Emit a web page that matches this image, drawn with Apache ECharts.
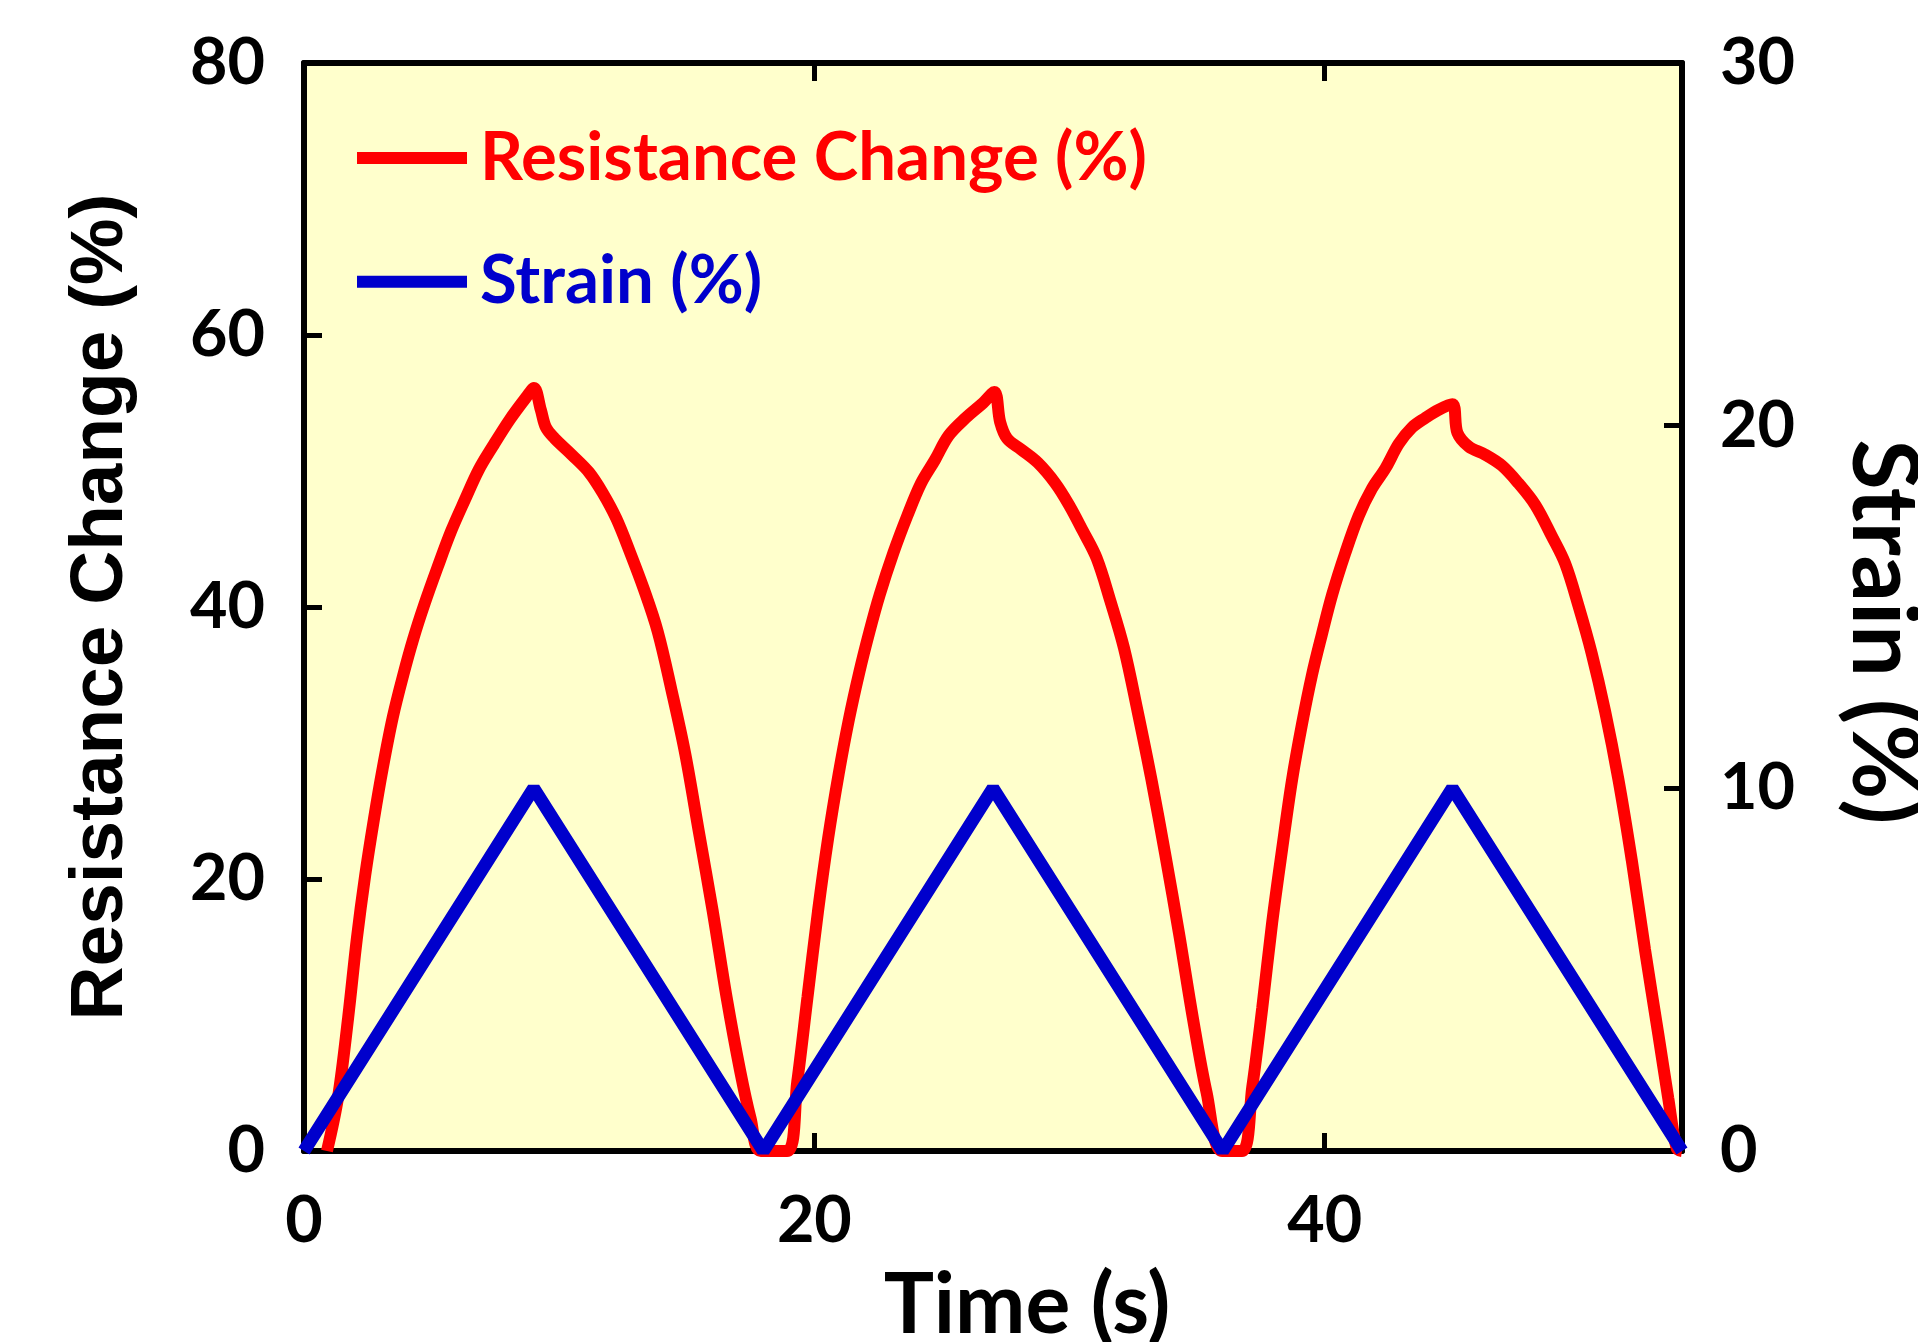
<!DOCTYPE html>
<html><head><meta charset="utf-8">
<script src="https://cdn.jsdelivr.net/npm/echarts@6/dist/echarts.min.js"></script>
<style>html,body{margin:0;padding:0;background:#fff}#c{width:1918px;height:1342px}</style>
</head><body><div id="c"></div>
<script>
// ---- data ----
const resTime = [0.9, 1.33, 1.73, 2.07, 2.40, 2.74, 3.08, 3.48, 3.89, 4.29, 4.70, 5.23, 5.77, 6.31, 6.85, 7.39, 8.07, 8.74, 9.01,
  9.28, 9.48, 9.82, 10.49, 11.17, 11.70, 12.24, 12.78, 13.32, 13.86, 14.40, 14.94, 15.48, 16.02, 16.56, 17.09, 17.50, 17.90,
  18.93, 19.33, 19.73, 20.14, 20.54, 20.95, 21.35, 21.76, 22.16, 22.56, 23.10, 23.64, 24.18, 24.72, 25.26, 25.93, 26.61, 27.05,
  27.28, 27.55, 28.09, 28.76, 29.44, 29.98, 30.52, 31.06, 31.59, 32.13, 32.67, 33.21, 33.75, 34.29, 34.83, 35.37, 35.98,
  36.76, 37.16, 37.55, 37.94, 38.33, 38.72, 39.11, 39.50, 39.89, 40.29, 40.81, 41.33, 41.85, 42.38, 42.90, 43.42, 43.94, 44.46, 45.0,
  45.2, 45.64, 46.29, 46.94, 47.59, 48.25, 48.90, 49.42, 49.94, 50.46, 50.99, 51.51, 52.03, 52.55, 53.07, 53.46, 53.79, 54.0];
const resValue = [0, 3.9, 9.8, 15.6, 20.3, 24.4, 28.1, 31.9, 35.0, 37.7, 40.1, 42.9, 45.6, 47.9, 50.1, 51.8, 53.8, 55.5, 56.1,
  54.5, 53.2, 52.4, 51.2, 49.9, 48.4, 46.5, 44.0, 41.3, 38.2, 33.9, 29.2, 23.4, 17.6, 11.3, 5.9, 2.4, 0,
  0, 5.1, 11.3, 17.6, 23.0, 27.7, 31.7, 35.2, 38.2, 40.9, 44.0, 46.7, 49.1, 50.8, 52.6, 53.9, 55.0, 55.8,
  53.6, 52.4, 51.6, 50.6, 49.1, 47.5, 45.6, 43.6, 40.5, 37.0, 32.3, 27.3, 21.8, 16.0, 9.8, 4.3, 0,
  0, 4.7, 10.5, 16.8, 22.2, 27.3, 31.4, 35.0, 38.0, 40.9, 44.0, 46.7, 48.7, 50.2, 52.0, 53.2, 53.9, 54.5, 54.9,
  52.8, 51.8, 51.2, 50.4, 49.1, 47.5, 45.2, 43.2, 40.1, 36.6, 32.3, 27.3, 21.4, 14.8, 8.6, 3.9, 0.2, 0];
const strainTime = [0, 9, 18, 27, 36, 45, 54];
const strainValue = [0, 10, 0, 10, 0, 10, 0];
const xTicks = [0, 20, 40];
const resName = 'Resistance Change (%)';
const strainName = 'Strain (%)';
const xName = 'Time (s)';

// ---- layout helpers ----
const ctx = document.createElement('canvas').getContext('2d');
function fit(text, family, target) { ctx.font = 'bold 100px ' + family; return 100 * target / ctx.measureText(text).width; }
const tickSize = fit('80', 'Lato', 75);
const legendSize = fit(resName, 'Lato', 667);
const xNameSize = Math.min(fit(xName, 'Lato', 293), 84);
const rNameSize = fit(strainName, 'Lato', 385);
const lNameSize = fit(resName, '"Liberation Sans"', 827);

const G = { left: 304, top: 63, width: 1378, height: 1088 };
const lineStyle = { color: '#000', width: 6 };
const tickStyle = { show: true, inside: true, length: 18, lineStyle: { color: '#000', width: 5 } };
const labelFont = { fontFamily: 'Lato', fontWeight: 'bold', fontSize: tickSize, color: '#000' };

const chart = echarts.init(document.getElementById('c'), null, { renderer: 'canvas' });
chart.setOption({
  animation: false,
  backgroundColor: '#fff',
  grid: { ...G, outerBoundsMode: 'none', containLabel: false, show: true, backgroundColor: '#FFFFCC', borderWidth: 0 },
  legend: {
    orient: 'vertical', left: 357, top: 158 - legendSize / 2, padding: 0, itemWidth: 110, itemHeight: 12, itemGap: 124 - legendSize,
    icon: 'rect', selectedMode: false,
    textStyle: { fontFamily: 'Lato', fontWeight: 'bold', fontSize: legendSize, padding: [0, 0, 0, 8] },
    data: [
      { name: resName, textStyle: { color: '#FF0000' }, itemStyle: { color: '#FF0000' } },
      { name: strainName, textStyle: { color: '#0000CC' }, itemStyle: { color: '#0000CC' } }
    ]
  },
  xAxis: [
    { type: 'value', position: 'bottom', min: 0, max: 54, interval: 20,
      axisLine: { show: true, onZero: false, lineStyle }, splitLine: { show: false }, axisTick: tickStyle,
      axisLabel: { ...labelFont, margin: 38, formatter: v => xTicks.includes(v) ? String(v) : '' },
      name: xName, nameLocation: 'middle', nameGap: 1306 - 1151 - xNameSize / 2,
      nameTextStyle: { fontFamily: 'Lato', fontWeight: 'bold', fontSize: xNameSize, color: '#000', padding: [0, 0, 0, 68] } },
    { type: 'value', position: 'top', min: 0, max: 54, interval: 20,
      axisLine: { show: true, onZero: false, lineStyle }, splitLine: { show: false }, axisTick: tickStyle, axisLabel: { show: false } }
  ],
  yAxis: [
    { type: 'value', position: 'left', min: 0, max: 80, interval: 20,
      axisLine: { show: true, onZero: false, lineStyle }, splitLine: { show: false }, axisTick: tickStyle,
      axisLabel: { ...labelFont, margin: 39 },
      name: resName, nameLocation: 'middle', nameGap: 304 - 113 - lNameSize / 2,
      nameTextStyle: { fontFamily: '"Liberation Sans"', fontWeight: 'bold', fontSize: lNameSize, color: '#000', padding: [0, 0, 12, 0] } },
    { type: 'value', position: 'right', min: 0, max: 30, interval: 10,
      axisLine: { show: true, onZero: false, lineStyle }, splitLine: { show: false }, axisTick: tickStyle,
      axisLabel: { ...labelFont, margin: 38 },
      name: strainName, nameLocation: 'middle', nameRotate: -90, nameGap: 1882 - 1682 - rNameSize / 2,
      nameTextStyle: { fontFamily: 'Lato', fontWeight: 'bold', fontSize: rNameSize, color: '#000', padding: [0, 0, 0, 50] } }
  ],
  series: [
    { name: resName, type: 'line', xAxisIndex: 0, yAxisIndex: 0, data: resTime.map((t, i) => [t, resValue[i]]),
      symbol: 'none', smooth: 0.35, clip: false, z: 2,
      lineStyle: { color: '#FF0000', width: 12 }, itemStyle: { color: '#FF0000' } },
    { name: strainName, type: 'line', xAxisIndex: 0, yAxisIndex: 1, data: strainTime.map((t, i) => [t, strainValue[i]]),
      symbol: 'none', clip: false, z: 3,
      lineStyle: { color: '#0000CC', width: 13 }, itemStyle: { color: '#0000CC' } }
  ]
});
</script></body></html>
